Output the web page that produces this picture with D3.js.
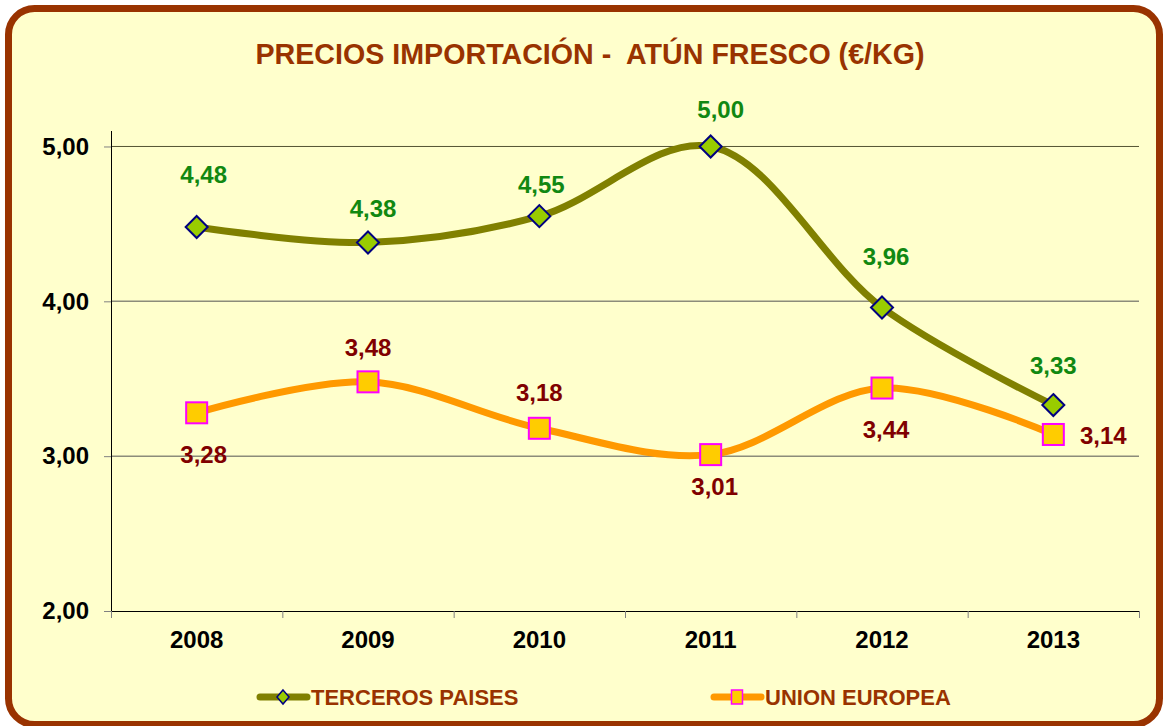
<!DOCTYPE html>
<html>
<head>
<meta charset="utf-8">
<script src="https://cdnjs.cloudflare.com/ajax/libs/d3/7.8.5/d3.min.js"></script>
<style>
  body { margin: 0; background: #fff; }
  svg text { font-family: "Liberation Sans", Arial, sans-serif; font-weight: bold; }
</style>
</head>
<body>
<div id="chart"></div>
<script>
// chart data
var years = ["2008", "2009", "2010", "2011", "2012", "2013"];
var terceros = [4.48, 4.38, 4.55, 5.00, 3.96, 3.33];
var unionEuropea = [3.28, 3.48, 3.18, 3.01, 3.44, 3.14];
var yTicks = [2, 3, 4, 5];

// label nudges (layout only)
var tercerosLabelDx = [7, 5, 2, 10, 4, 0];
var tercerosLabelDy = [-44, -25, -23, -28, -43, -31];
var ueLabelDx = [7, 0, 0, 4, 4, 50];
var ueLabelDy = [50, -26, -27, 40, 50, 10];

document.addEventListener('DOMContentLoaded', function() {
  drawChart();
});

function drawChart() {
  var W = 1166, H = 726;
  var left = 111, right = 1139, top = 131, bottom = 611;

  var svg = d3.select("#chart").append("svg")
    .attr("width", W)
    .attr("height", H);

  // frame
  svg.append("rect")
    .attr("x", 8.5).attr("y", 8.5)
    .attr("width", 1151).attr("height", 716)
    .attr("rx", 26).attr("ry", 26)
    .attr("fill", "#ffffcc")
    .attr("stroke", "#993300")
    .attr("stroke-width", 7);

  svg.append("text")
    .attr("x", 590).attr("y", 64)
    .attr("text-anchor", "middle")
    .attr("fill", "#993300")
    .style("font-size", "29px")
    .attr("textLength", 669)
    .attr("lengthAdjust", "spacingAndGlyphs")
    .attr("xml:space", "preserve")
    .text("PRECIOS IMPORTACIÓN -  ATÚN FRESCO (€/KG)");

  var x = d3.scaleBand().domain(years).range([left, right]);
  var y = d3.scaleLinear().domain([2, 5.1]).range([bottom, top]);
  var cx = function(d) { return x(d) + x.bandwidth() / 2; };

  // gridlines
  svg.append("g").selectAll("line")
    .data(yTicks.filter(function(t) { return t > 2; }))
    .enter().append("line")
    .attr("x1", left).attr("x2", right)
    .attr("y1", function(d) { return y(d); })
    .attr("y2", function(d) { return y(d); })
    .attr("stroke", function(d) { return d === 5 ? "#555533" : "#8c8c7a"; })
    .attr("stroke-width", function(d) { return d === 5 ? 1 : 1.5; });

  // Y axis
  var yAxis = svg.append("g")
    .attr("transform", "translate(" + left + ",0)")
    .call(d3.axisLeft(y).tickValues(yTicks).tickSize(7).tickPadding(15)
      .tickFormat(function(d) { return d3.format(".2f")(d).replace(".", ","); }));
  yAxis.select(".domain").attr("stroke", "#000").attr("d", "M0.5," + top + "V" + bottom);
  yAxis.selectAll(".tick line").attr("stroke", "#808080");
  yAxis.selectAll("text").style("font-size", "24px").attr("fill", "#000");

  // X axis
  var xAxis = svg.append("g")
    .attr("transform", "translate(0," + bottom + ")")
    .call(d3.axisBottom(x).tickSize(0).tickPadding(20));
  xAxis.select(".domain").attr("stroke", "#000").attr("d", "M" + left + ",0.5H" + right);
  xAxis.selectAll("text").style("font-size", "24px").attr("fill", "#000");
  svg.append("g").selectAll("line")
    .data(years.concat(["end"]))
    .enter().append("line")
    .attr("x1", function(d, i) { return left + i * x.bandwidth() + 0.5; })
    .attr("x2", function(d, i) { return left + i * x.bandwidth() + 0.5; })
    .attr("y1", bottom).attr("y2", bottom + 7)
    .attr("stroke", "#808080");

  var line = d3.line()
    .x(function(d, i) { return cx(years[i]); })
    .y(function(d) { return y(d); })
    .curve(d3.curveCatmullRom.alpha(0.5));

  // series lines
  svg.append("path").datum(terceros)
    .attr("d", line).attr("fill", "none")
    .attr("stroke", "#808000").attr("stroke-width", 7);
  svg.append("path").datum(unionEuropea)
    .attr("d", line).attr("fill", "none")
    .attr("stroke", "#ff9900").attr("stroke-width", 7);

  var diamond = "M0,-11L11,0L0,11L-11,0Z";

  // markers
  svg.append("g").selectAll("path")
    .data(terceros).enter().append("path")
    .attr("d", diamond)
    .attr("transform", function(d, i) { return "translate(" + cx(years[i]) + "," + y(d) + ")"; })
    .attr("fill", "#99cc00").attr("stroke", "#000080").attr("stroke-width", 2);

  svg.append("g").selectAll("rect")
    .data(unionEuropea).enter().append("rect")
    .attr("x", function(d, i) { return cx(years[i]) - 10.5; })
    .attr("y", function(d) { return y(d) - 10.5; })
    .attr("width", 21).attr("height", 21)
    .attr("fill", "#ffcc00").attr("stroke", "#ff00ff").attr("stroke-width", 2);

  var fmt = function(d) { return d3.format(".2f")(d).replace(".", ","); };

  // data labels
  svg.append("g").selectAll("text")
    .data(terceros).enter().append("text")
    .attr("x", function(d, i) { return cx(years[i]) + tercerosLabelDx[i]; })
    .attr("y", function(d, i) { return y(d) + tercerosLabelDy[i]; })
    .attr("text-anchor", "middle")
    .attr("fill", "#118811")
    .style("font-size", "24px")
    .text(fmt);

  svg.append("g").selectAll("text")
    .data(unionEuropea).enter().append("text")
    .attr("x", function(d, i) { return cx(years[i]) + ueLabelDx[i]; })
    .attr("y", function(d, i) { return y(d) + ueLabelDy[i]; })
    .attr("text-anchor", "middle")
    .attr("fill", "#800000")
    .style("font-size", "24px")
    .text(fmt);

  // legend
  var ly = 697;
  var lg1 = svg.append("g");
  lg1.append("line").attr("x1", 260).attr("x2", 307).attr("y1", ly).attr("y2", ly)
    .attr("stroke", "#808000").attr("stroke-width", 7).attr("stroke-linecap", "round");
  lg1.append("path").attr("d", "M0,-7L6,0L0,7L-6,0Z")
    .attr("transform", "translate(283," + ly + ")")
    .attr("fill", "#99cc00").attr("stroke", "#000080").attr("stroke-width", 1.5);
  lg1.append("text").attr("x", 311).attr("y", ly + 8)
    .attr("fill", "#993300").style("font-size", "22px")
    .text("TERCEROS PAISES");

  var lg2 = svg.append("g");
  lg2.append("line").attr("x1", 714).attr("x2", 761).attr("y1", ly).attr("y2", ly)
    .attr("stroke", "#ff9900").attr("stroke-width", 7).attr("stroke-linecap", "round");
  lg2.append("rect").attr("x", 731.5).attr("y", ly - 7).attr("width", 11).attr("height", 14)
    .attr("fill", "#ffcc00").attr("stroke", "#ff00ff").attr("stroke-width", 1.5);
  lg2.append("text").attr("x", 765).attr("y", ly + 8)
    .attr("fill", "#993300").style("font-size", "22px")
    .text("UNION EUROPEA");
}
</script>
</body>
</html>
